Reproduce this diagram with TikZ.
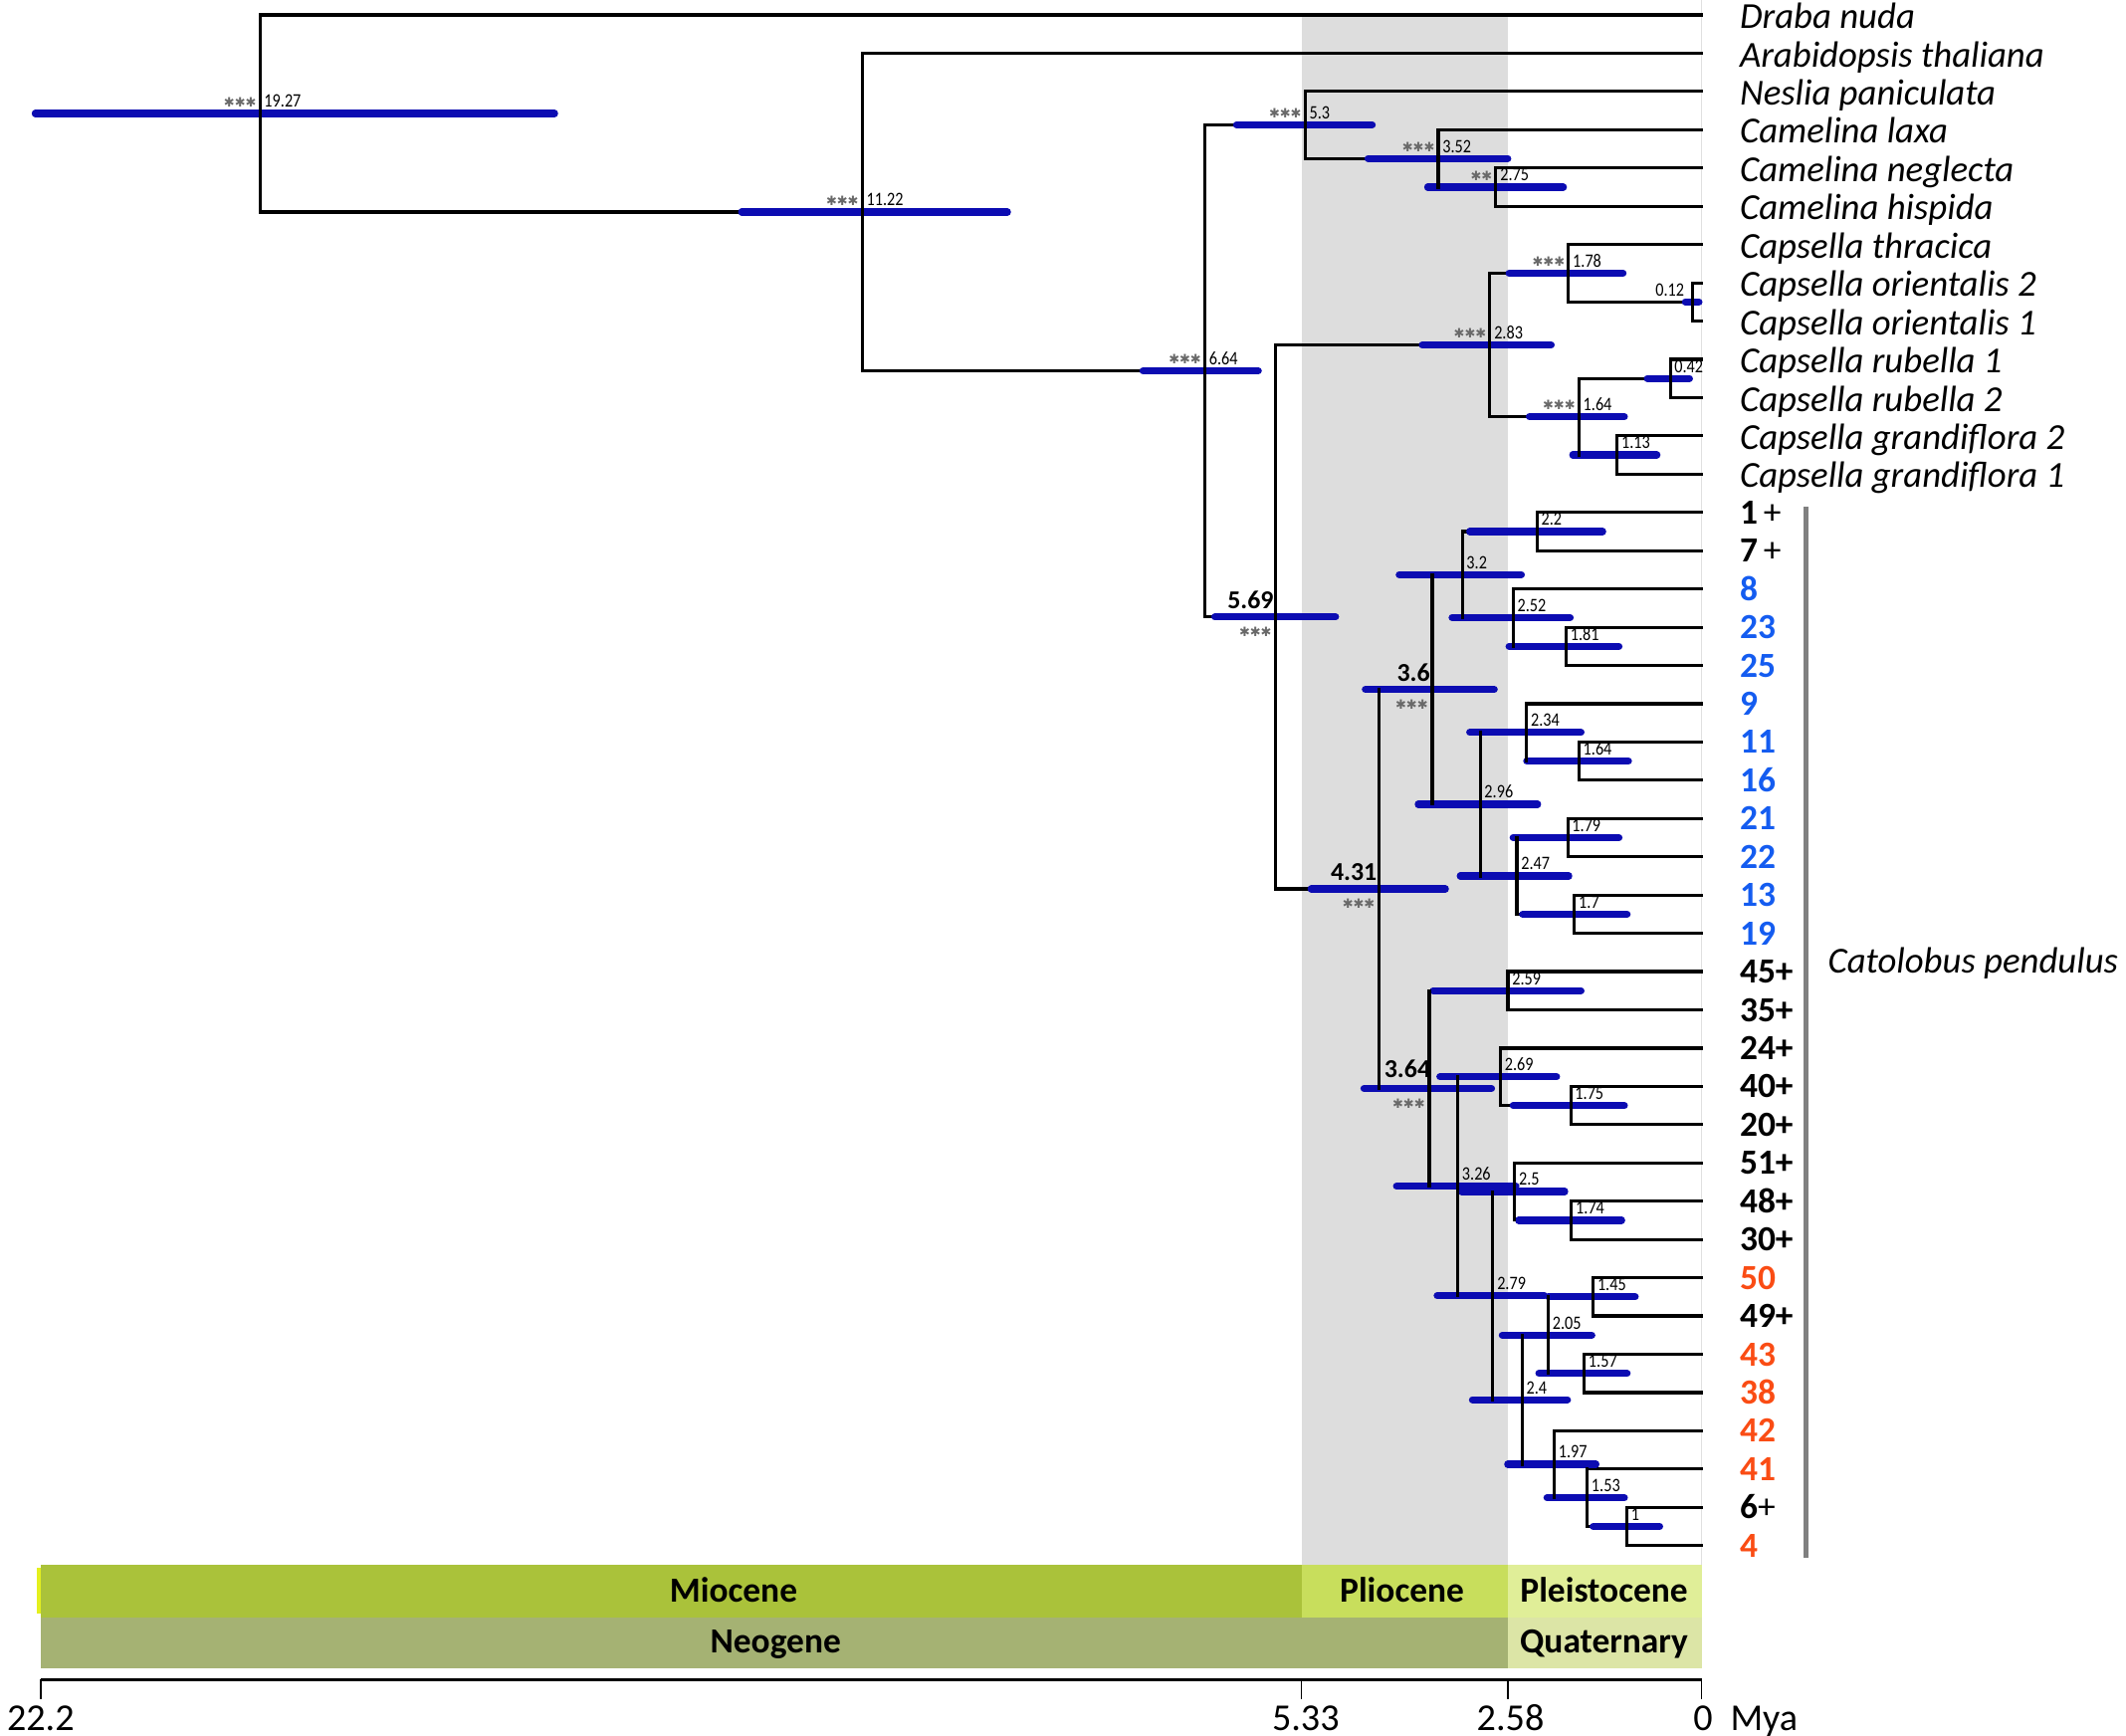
\documentclass[tikz,border=0pt]{standalone}
\usepackage{fontspec}
\setmainfont{Carlito}
\newfontfamily\condfont[FakeStretch=0.85]{Carlito}
\newfontfamily\dejavu{DejaVu Sans}
\usetikzlibrary{calc}
\definecolor{cibar}{RGB}{12,12,178}
\definecolor{numblue}{RGB}{20,92,240}
\definecolor{numorange}{RGB}{250,76,20}
\definecolor{plioshade}{RGB}{221,221,221}
\definecolor{miocene}{RGB}{170,194,58}
\definecolor{pliocene}{RGB}{200,222,92}
\definecolor{pleisto}{RGB}{224,238,152}
\definecolor{neogene}{RGB}{165,178,115}
\definecolor{quatern}{RGB}{220,229,166}
\definecolor{stargray}{RGB}{105,105,105}
\definecolor{cladebar}{RGB}{128,128,128}
\definecolor{sliver}{RGB}{228,240,30}
\pgfdeclarelayer{back}\pgfdeclarelayer{lines}\pgfdeclarelayer{bars}
\pgfsetlayers{back,lines,bars,main}
\tikzset{
  br/.style={line width=2.3pt, black, line cap=rect},
  ci/.style={line width=5.3pt, cibar, line cap=round},
  tax/.style={anchor=base west, inner sep=0pt, font=\fontsize{27}{30}\selectfont\itshape},
  num/.style={anchor=base west, inner sep=0pt, font=\fontsize{26}{30}\selectfont\bfseries},
  agel/.style={anchor=base west, inner sep=0pt, font=\condfont\fontsize{14}{16}\selectfont},
  agelr/.style={anchor=base east, inner sep=0pt, font=\condfont\fontsize{14}{16}\selectfont},
  starl/.style={anchor=east, inner sep=0pt, text=stargray, font=\dejavu\fontsize{9.5}{11}\selectfont},
  bigl/.style={anchor=base east, inner sep=0pt, font=\fontsize{19}{21}\selectfont\bfseries},
  epoch/.style={anchor=base, inner sep=0pt, font=\fontsize{26}{30}\selectfont\bfseries},
  axl/.style={anchor=base, inner sep=0pt, font=\fontsize{28}{30}\selectfont},
}
\newcommand\clade[5]{\coordinate (#1) at ({1255-55.18*#2},#3);
  \begin{pgfonlayer}{bars}\draw[ci] (#4,#3) -- (#5,#3);\end{pgfonlayer}}
\newcommand\leaf[2]{\coordinate (#1) at (1255,{11+28.22*#2});}
\newcommand\kids[3]{%
  \begin{pgfonlayer}{lines}\draw[br] (#1 |- #2) -- (#2) (#1 |- #3) -- (#3);\end{pgfonlayer}
  \draw[br] (#1 |- #2) -- (#1 |- #3);}
\newcommand\agelab[2]{\node[agel] (#1-age) at ($(#1)+(3,-4.5)$) {#2};}
\newcommand\starlab[2]{\node[starl] (#1-st) at ($(#1)+(-2.5,-8.5)$) {#2};}
\newcommand\biglab[2]{\node[bigl] (#1-age) at ($(#1)+(-1.5,-6)$) {#2};
  \node[starl] (#1-st) at ($(#1)+(-3,11)$) {✱✱✱};}
\newcommand\taxon[2]{\node[tax] (#1-lab) at ($(#1)+(28,10)$) {#2};}
\newcommand\acc[3]{\node[num,text=#2] (#1-lab) at ($(#1)+(28,8.5)$) {#3};}

\begin{document}
\begin{tikzpicture}[x=1pt,y=-1pt]
\useasboundingbox (0,0) rectangle (1568,1280);
% background
\begin{pgfonlayer}{back}
\fill[plioshade] (960,12) rectangle (1112,1154);
\draw[line width=0.8pt, black!12] (1255,0) -- (1255,1154);
\fill[miocene] (30,1154) rectangle (960,1192.5);
\fill[pliocene] (960,1154) rectangle (1112,1192.5);
\fill[pleisto] (1112,1154) rectangle (1255,1192.5);
\fill[neogene] (30,1192.5) rectangle (1112,1230);
\fill[quatern] (1112,1192.5) rectangle (1255,1230);
\fill[sliver] (27,1156) rectangle (30,1190);
\end{pgfonlayer}
% leaves
\foreach \i in {0,...,40} {\leaf{t\i}{\i}}
% clades: name, age, y, bar left, bar right
\clade{nA}{19.27}{83.7}{26}{409}
\clade{nB}{11.22}{156.4}{547}{743}
\clade{nC}{6.64}{273.5}{843}{928}
\clade{nD}{5.3}{92.1}{912}{1012}
\clade{nE}{3.52}{116.85}{1009}{1112}
\clade{nF}{2.75}{138.0}{1053}{1153}
\clade{nK}{5.69}{454.98}{896}{985}
\clade{nG}{2.83}{254.4}{1049}{1144}
\clade{nH}{1.78}{201.5}{1113}{1197}
\clade{nHa}{0.12}{222.65}{1243}{1253}
\clade{nI}{1.64}{307.3}{1128}{1198}
\clade{nIa}{0.42}{279.1}{1215}{1246}
\clade{nIb}{1.13}{335.5}{1160}{1222}
\clade{nM}{4.31}{655.55}{967}{1066}
\clade{nN}{3.6}{508.4}{1007}{1102}
\clade{nNa}{3.2}{423.7}{1032}{1122}
\clade{nNc}{2.2}{392.0}{1084}{1182}
\clade{nNd}{2.52}{455.45}{1071}{1158}
\clade{nNe}{1.81}{476.6}{1113}{1194}
\clade{nNb}{2.96}{593.05}{1046}{1134}
\clade{nNf}{2.34}{540.15}{1084}{1166}
\clade{nNh}{1.64}{561.3}{1126}{1201}
\clade{nNg}{2.47}{645.95}{1077}{1157}
\clade{nNi}{1.79}{617.7}{1116}{1194}
\clade{nNj}{1.7}{674.2}{1123}{1200}
\clade{nS}{3.64}{802.7}{1006}{1100}
\clade{nSa}{2.59}{730.6}{1057}{1166}
\clade{nT}{3.26}{874.8}{1030}{1118}
\clade{nTa}{2.69}{794.1}{1062}{1148}
\clade{nTb}{1.75}{815.3}{1116}{1198}
\clade{nU}{2.79}{955.5}{1060}{1139}
\clade{nUa}{2.5}{878.75}{1078}{1154}
\clade{nUb}{1.74}{899.9}{1120}{1196}
\clade{nV}{2.4}{1032.2}{1086}{1156}
\clade{nW}{2.05}{984.6}{1108}{1174}
\clade{nWa}{1.45}{956.4}{1142}{1206}
\clade{nWb}{1.57}{1012.8}{1135}{1200}
\clade{nX}{1.97}{1079.8}{1112}{1177}
\clade{nXa}{1.53}{1104.55}{1141}{1198}
\clade{nXb}{1}{1125.7}{1175}{1224}
% branches
\kids{nA}{t0}{nB}
\kids{nB}{t1}{nC}
\kids{nC}{nD}{nK}
\kids{nD}{t2}{nE}
\kids{nE}{t3}{nF}
\kids{nF}{t4}{t5}
\kids{nK}{nG}{nM}
\kids{nG}{nH}{nI}
\kids{nH}{t6}{nHa}
\kids{nHa}{t7}{t8}
\kids{nI}{nIa}{nIb}
\kids{nIa}{t9}{t10}
\kids{nIb}{t11}{t12}
\kids{nM}{nN}{nS}
\kids{nN}{nNa}{nNb}
\kids{nNa}{nNc}{nNd}
\kids{nNc}{t13}{t14}
\kids{nNd}{t15}{nNe}
\kids{nNe}{t16}{t17}
\kids{nNb}{nNf}{nNg}
\kids{nNf}{t18}{nNh}
\kids{nNh}{t19}{t20}
\kids{nNg}{nNi}{nNj}
\kids{nNi}{t21}{t22}
\kids{nNj}{t23}{t24}
\kids{nS}{nSa}{nT}
\kids{nSa}{t25}{t26}
\kids{nT}{nTa}{nU}
\kids{nTa}{t27}{nTb}
\kids{nTb}{t28}{t29}
\kids{nU}{nUa}{nV}
\kids{nUa}{t30}{nUb}
\kids{nUb}{t31}{t32}
\kids{nV}{nW}{nX}
\kids{nW}{nWa}{nWb}
\kids{nWa}{t33}{t34}
\kids{nWb}{t35}{t36}
\kids{nX}{t37}{nXa}
\kids{nXa}{t38}{nXb}
\kids{nXb}{t39}{t40}
% age labels
\agelab{nA}{19.27}\starlab{nA}{✱✱✱}
\agelab{nB}{11.22}\starlab{nB}{✱✱✱}
\agelab{nC}{6.64}\starlab{nC}{✱✱✱}
\agelab{nD}{5.3}\starlab{nD}{✱✱✱}
\agelab{nE}{3.52}\starlab{nE}{✱✱✱}
\agelab{nF}{2.75}\starlab{nF}{✱✱}
\agelab{nG}{2.83}\starlab{nG}{✱✱✱}
\agelab{nH}{1.78}\starlab{nH}{✱✱✱}
\node[agelr] (nHa-age) at ($(nHa)+(-6,-4)$) {0.12};
\agelab{nI}{1.64}\starlab{nI}{✱✱✱}
\agelab{nIa}{0.42}
\agelab{nIb}{1.13}
\biglab{nK}{5.69}
\biglab{nM}{4.31}
\biglab{nN}{3.6}
\node[bigl] (nS-age) at ($(nS)+(1,-8)$) {3.64};
\node[starl] (nS-st) at ($(nS)+(-3,11)$) {✱✱✱};
\agelab{nNa}{3.2}
\agelab{nNc}{2.2}
\agelab{nNd}{2.52}
\agelab{nNe}{1.81}
\agelab{nNb}{2.96}
\agelab{nNf}{2.34}
\agelab{nNh}{1.64}
\agelab{nNg}{2.47}
\agelab{nNi}{1.79}
\agelab{nNj}{1.7}
\agelab{nSa}{2.59}
\agelab{nT}{3.26}
\agelab{nTa}{2.69}
\agelab{nTb}{1.75}
\agelab{nU}{2.79}
\agelab{nUa}{2.5}
\agelab{nUb}{1.74}
\agelab{nV}{2.4}
\agelab{nW}{2.05}
\agelab{nWa}{1.45}
\agelab{nWb}{1.57}
\agelab{nX}{1.97}
\agelab{nXa}{1.53}
\agelab{nXb}{1}
% taxon names
\taxon{t0}{Draba nuda}
\taxon{t1}{Arabidopsis thaliana}
\taxon{t2}{Neslia paniculata}
\taxon{t3}{Camelina laxa}
\taxon{t4}{Camelina neglecta}
\taxon{t5}{Camelina hispida}
\taxon{t6}{Capsella thracica}
\taxon{t7}{Capsella orientalis 2}
\taxon{t8}{Capsella orientalis 1}
\taxon{t9}{Capsella rubella 1}
\taxon{t10}{Capsella rubella 2}
\taxon{t11}{Capsella grandiflora 2}
\taxon{t12}{Capsella grandiflora 1}
\acc{t13}{black}{1\,\mdseries+}
\acc{t14}{black}{7\,\mdseries+}
\acc{t15}{numblue}{8}
\acc{t16}{numblue}{23}
\acc{t17}{numblue}{25}
\acc{t18}{numblue}{9}
\acc{t19}{numblue}{11}
\acc{t20}{numblue}{16}
\acc{t21}{numblue}{21}
\acc{t22}{numblue}{22}
\acc{t23}{numblue}{13}
\acc{t24}{numblue}{19}
\acc{t25}{black}{45+}
\acc{t26}{black}{35+}
\acc{t27}{black}{24+}
\acc{t28}{black}{40+}
\acc{t29}{black}{20+}
\acc{t30}{black}{51+}
\acc{t31}{black}{48+}
\acc{t32}{black}{30+}
\acc{t33}{numorange}{50}
\acc{t34}{black}{49+}
\acc{t35}{numorange}{43}
\acc{t36}{numorange}{38}
\acc{t37}{numorange}{42}
\acc{t38}{numorange}{41}
\acc{t39}{black}{6\mdseries+}
\acc{t40}{numorange}{4}
% Catolobus bracket
\coordinate (cbTop) at (1332,374);
\coordinate (cbBot) at (1332,1149);
\draw[line width=3.2pt, cladebar] (cbTop) -- (cbBot);
\node[anchor=west, inner sep=0pt, font=\fontsize{27}{30}\selectfont\itshape] (cpName) at (1348,710) {Catolobus pendulus};
% time bars labels
\node[epoch] (ep1) at (541,1181.5) {Miocene};
\node[epoch] (ep2) at (1034,1181.5) {Pliocene};
\node[epoch] (ep3) at (1183,1181.5) {Pleistocene};
\node[epoch] (pe1) at (572,1219) {Neogene};
\node[epoch] (pe2) at (1183,1219) {Quaternary};
% axis
\coordinate (ax0) at (30,1238.5);
\coordinate (ax1) at (960,1238.5);
\coordinate (ax2) at (1112,1238.5);
\coordinate (ax3) at (1255,1238.5);
\draw[line width=2pt] (ax0) -- (ax3);
\foreach \c in {ax0,ax1,ax2,ax3} {\draw[line width=1pt] (\c) -- ++(0,14.5);}
\node[axl] (l0) at (30,1276) {22.2};
\node[axl] (l1) at (963,1276) {5.33};
\node[axl] (l2) at (1114,1276) {2.58};
\node[axl] (l3) at (1256,1276) {0};
\node[axl, anchor=base west] (l4) at (1276,1276) {Mya};
\end{tikzpicture}
\end{document}
